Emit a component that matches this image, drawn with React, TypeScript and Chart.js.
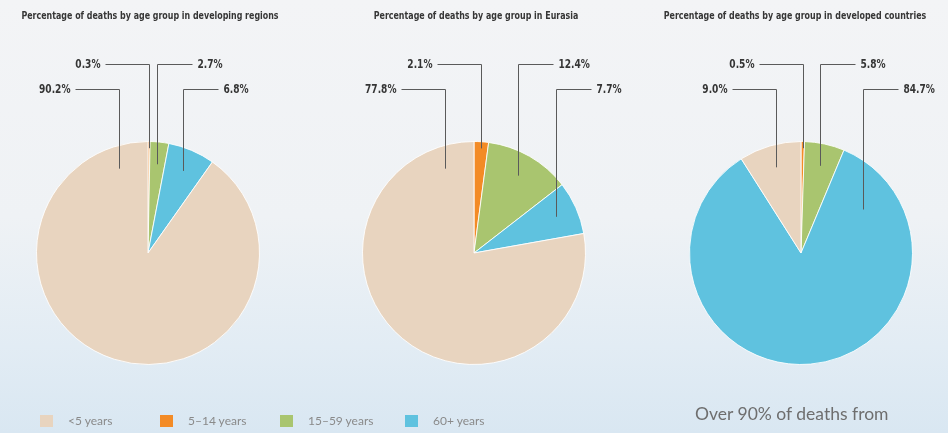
import React, { useEffect, useRef } from "react";
import { Chart, registerables } from "chart.js";
Chart.register(...registerables);

// ---- data ----
const categories = ["<5 years", "5–14 years", "15–59 years", "60+ years"];
const chartTitles = [
  "Percentage of deaths by age group in developing regions",
  "Percentage of deaths by age group in Eurasia",
  "Percentage of deaths by age group in developed countries",
];
const developingRegions = [90.2, 0.3, 2.7, 6.8];
const eurasia = [77.8, 2.1, 12.4, 7.7];
const developedCountries = [9.0, 0.5, 5.8, 84.7];
const seriesList = [developingRegions, eurasia, developedCountries];
const footnote = "Over 90% of deaths from";

// ---- styling / layout ----
const colors = ["#e8d4bf", "#f38b26", "#a9c56f", "#5fc2df"];
const drawOrder = [1, 2, 3, 0]; // clockwise from 12 o'clock
const labelSide = ["left", "left", "right", "right"];
const labelRow = [1, 0, 0, 1];
const pieCenters = [148, 474, 801];
const titleCenters = [150, 476, 795];
const CANVAS_W = 310;
const CANVAS_H = 433;
const TITLE_FONT = "bold 10px 'DejaVu Sans Condensed', 'DejaVu Sans', sans-serif";
const LABEL_FONT = "bold 12px 'DejaVu Sans Condensed', 'DejaVu Sans', sans-serif";

function squeezedText(ctx: any, text: string, x: number, y: number, sx: number) {
  ctx.save();
  ctx.translate(x, y);
  ctx.scale(sx, 1);
  ctx.fillText(text, 0, 0);
  ctx.restore();
}

const leaderPlugin = {
  id: "leaders",
  afterDatasetsDraw(chart: any, _args: any, opts: any) {
    const ctx = chart.ctx;
    const meta = chart.getDatasetMeta(0);
    const values = chart.data.datasets[0].data as number[];
    ctx.save();
    // title
    ctx.font = TITLE_FONT;
    ctx.fillStyle = "#363636";
    ctx.textAlign = "center";
    ctx.textBaseline = "middle";
    squeezedText(ctx, opts.title, opts.titleX, 16, 0.88);

    meta.data.forEach((arc: any, i: number) => {
      const cat = drawOrder[i];
      const p = arc.getProps(["x", "y", "startAngle", "endAngle", "outerRadius"], true);
      const left = labelSide[cat] === "left";
      const span = p.endAngle - p.startAngle;
      let a = (p.startAngle + p.endAngle) / 2 + Math.PI / 2;
      while (a > Math.PI) a -= 2 * Math.PI;
      while (a <= -Math.PI) a += 2 * Math.PI;
      let rf = cat === 1 ? 0.94 : 0.8;
      if (span > Math.PI) {
        a = left ? (-19 * Math.PI) / 180 : (55 * Math.PI) / 180;
        rf = left ? 0.8 : 0.68;
      }
      const ax = Math.round(p.x + p.outerRadius * rf * Math.sin(a)) + 0.5;
      const ay = p.y - p.outerRadius * rf * Math.cos(a);
      const rowY = Math.round(p.y - p.outerRadius - 78 + labelRow[cat] * 25) + 0.5;
      const len = left ? 44 : 35;
      const ex = left ? ax - len : ax + len;
      ctx.strokeStyle = "#5a5a5a";
      ctx.lineWidth = 1;
      ctx.beginPath();
      ctx.moveTo(ax, ay);
      ctx.lineTo(ax, rowY);
      ctx.lineTo(ex, rowY);
      ctx.stroke();
      ctx.font = LABEL_FONT;
      ctx.fillStyle = "#353535";
      ctx.textAlign = left ? "right" : "left";
      ctx.textBaseline = "middle";
      squeezedText(ctx, values[i].toFixed(1) + "%", left ? ex - 5 : ex + 5, rowY, 0.84);
    });
    ctx.restore();
  },
};

function PieChart({ idx }: { idx: number }) {
  const ref = useRef<HTMLCanvasElement>(null);
  useEffect(() => {
    const series = seriesList[idx];
    const r = 112;
    const padX = CANVAS_W / 2 - r;
    const chart = new Chart(ref.current!, {
      type: "pie",
      data: {
        labels: drawOrder.map((c) => categories[c]),
        datasets: [
          {
            data: drawOrder.map((c) => series[c]),
            backgroundColor: drawOrder.map((c) => colors[c]),
            borderColor: "rgba(255,255,255,0.85)",
            borderWidth: 1,
          },
        ],
      },
      options: {
        responsive: false,
        animation: false,
        layout: { padding: { left: padX, right: padX, top: 141, bottom: CANVAS_H - 141 - 2 * r } },
        plugins: {
          legend: { display: false },
          tooltip: { enabled: false },
          leaders: { title: chartTitles[idx], titleX: titleCenters[idx] - pieCenters[idx] + CANVAS_W / 2 },
        } as any,
      },
      plugins: [leaderPlugin],
    });
    return () => chart.destroy();
  }, [idx]);
  return (
    <canvas
      ref={ref}
      width={CANVAS_W}
      height={CANVAS_H}
      style={{ position: "absolute", left: pieCenters[idx] - CANVAS_W / 2, top: 0, width: CANVAS_W, height: CANVAS_H }}
    />
  );
}

const legendWidths = [120, 120, 125, 100];

export default function App() {
  return (
    <div
      style={{
        position: "fixed",
        left: 0,
        top: 0,
        width: 948,
        height: 433,
        overflow: "hidden",
        background: "linear-gradient(to bottom, #f3f4f6 0%, #eff2f5 50%, #e2ecf4 80%, #d9e7f2 100%)",
      }}
    >
      {seriesList.map((_, i) => (
        <PieChart key={i} idx={i} />
      ))}
      <div style={{ position: "absolute", left: 40, top: 413, display: "flex", alignItems: "center" }}>
        {categories.map((c, i) => (
          <div key={c} style={{ width: legendWidths[i], display: "flex", alignItems: "center" }}>
            <div style={{ width: 13, height: 12, background: colors[i], marginRight: 15 }} />
            <span style={{ font: "12px Lato, sans-serif", color: "#8a8a8a", whiteSpace: "nowrap" }}>{c}</span>
          </div>
        ))}
      </div>
      <div
        style={{
          position: "absolute",
          left: 695,
          top: 403,
          font: "17.5px Lato, sans-serif",
          color: "#6e6e6e",
          whiteSpace: "nowrap",
        }}
      >
        {footnote}
      </div>
    </div>
  );
}
